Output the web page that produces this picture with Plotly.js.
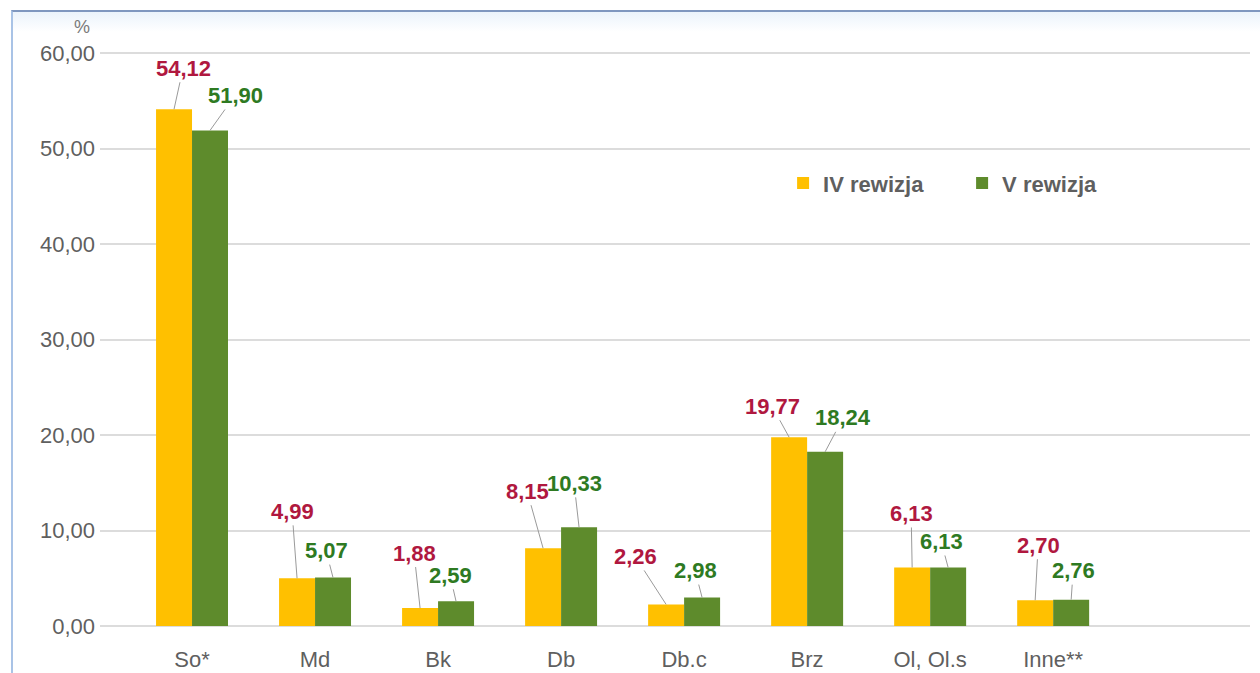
<!DOCTYPE html>
<html>
<head>
<meta charset="utf-8">
<script src="https://cdn.plot.ly/plotly-3.0.1.min.js"></script>
<style>
  html, body { margin: 0; padding: 0; background: #ffffff; }
  #wrap { position: relative; width: 1260px; height: 673px; overflow: hidden; }
  #bg { position: absolute; left: 11px; top: 10px; right: 0; bottom: 0;
        background: linear-gradient(to bottom, #e9f2fb 0px, #ffffff 22px); }
  #frame { position: absolute; left: 11px; top: 10px; right: -4px; bottom: -4px;
           border-left: 2px solid #a9c3e6; border-top: 2px solid #7f97bf; pointer-events: none; }
  #chart { position: absolute; left: 0; top: 0; width: 1260px; height: 673px; }
</style>
</head>
<body>
<div id="wrap">
  <div id="bg"></div>
  <div id="chart"></div>
  <div id="frame"></div>
</div>
<script>
// ---- data ----
const categories = ["So*", "Md", "Bk", "Db", "Db.c", "Brz", "Ol, Ol.s", "Inne**"];
const seriesNames = ["IV rewizja", "V rewizja"];
const valuesIV = [54.12, 4.99, 1.88, 8.15, 2.26, 19.77, 6.13, 2.70];
const valuesV = [51.90, 5.07, 2.59, 10.33, 2.98, 18.24, 6.13, 2.76];
const yTicks = [0, 10, 20, 30, 40, 50, 60];

// ---- styles ----
const barColors = ["#FFC000", "#5E8B2C"];
const labelColors = ["#B0183F", "#2E7A22"];
const bargap = 0.415;
// label offsets in pixels (text centre relative to bar top)
const offIV = [[9,-41],[-5,-67],[-6,-55],[-16,-57],[-31,-48],[-17,-31],[-1,-54],[3,-55]];
const offV  = [[25,-35],[-7,-27],[-6,-26],[-5,-44],[-7,-27],[18,-34],[-7,-26],[2,-29]];

const fontFam = "Arial, 'Liberation Sans', sans-serif";
const fmt = v => v.toFixed(2).replace('.', ',');

const traces = [valuesIV, valuesV].map((vals, s) => ({
  type: 'bar',
  name: seriesNames[s],
  x: categories,
  y: vals,
  marker: { color: barColors[s], line: { width: 0 } },
  hoverinfo: 'skip'
}));

const half = (1 - bargap) / 4; // centre offset of each bar within group
const annotations = [];
[valuesIV, valuesV].forEach((vals, s) => {
  const offs = s === 0 ? offIV : offV;
  vals.forEach((v, i) => {
    annotations.push({
      x: i + (s === 0 ? -half : half),
      y: v,
      xref: 'x', yref: 'y',
      text: fmt(v),
      showarrow: true,
      arrowhead: 0,
      arrowwidth: 1,
      arrowcolor: '#9a9a9a',
      standoff: 0,
      ax: offs[i][0],
      ay: offs[i][1],
      font: { family: fontFam, size: 22, color: labelColors[s], weight: 'bold' }
    });
  });
});
annotations.push({
  xref: 'paper', yref: 'paper',
  x: -0.016, y: 1.012,
  xanchor: 'center', yanchor: 'middle',
  text: '%', showarrow: false,
  font: { family: fontFam, size: 18, color: '#7a7a7a' }
});

const layout = {
  width: 1260, height: 673,
  margin: { l: 100, r: 10, t: 34, b: 47 },
  paper_bgcolor: 'rgba(0,0,0,0)',
  plot_bgcolor: 'rgba(0,0,0,0)',
  barmode: 'group',
  bargap: bargap,
  bargroupgap: 0,
  separators: ', ',
  showlegend: true,
  legend: {
    orientation: 'h',
    x: 0.594, y: 0.748, xanchor: 'left', yanchor: 'middle',
    entrywidth: 134, entrywidthmode: 'pixels',
    font: { family: fontFam, size: 22, color: '#5f5f5f', weight: 'bold' },
    bgcolor: 'rgba(0,0,0,0)', traceorder: 'normal'
  },
  xaxis: {
    type: 'category',
    range: [-0.748, 8.6],
    showgrid: false, zeroline: false, showline: false,
    ticks: '', ticklabelstandoff: 18,
    tickfont: { family: fontFam, size: 22, color: '#5f5f5f' }
  },
  yaxis: {
    range: [0, 62],
    tickvals: yTicks,
    tickformat: '.2f',
    showgrid: true, gridcolor: '#dcdcdc', gridwidth: 2,
    zeroline: true, zerolinecolor: '#dcdcdc', zerolinewidth: 2,
    showline: false, ticks: '', ticklabelstandoff: 4,
    tickfont: { family: fontFam, size: 22, color: '#5f5f5f' }
  },
  annotations: annotations
};

Plotly.newPlot('chart', traces, layout, { displayModeBar: false, staticPlot: true });
</script>
</body>
</html>
